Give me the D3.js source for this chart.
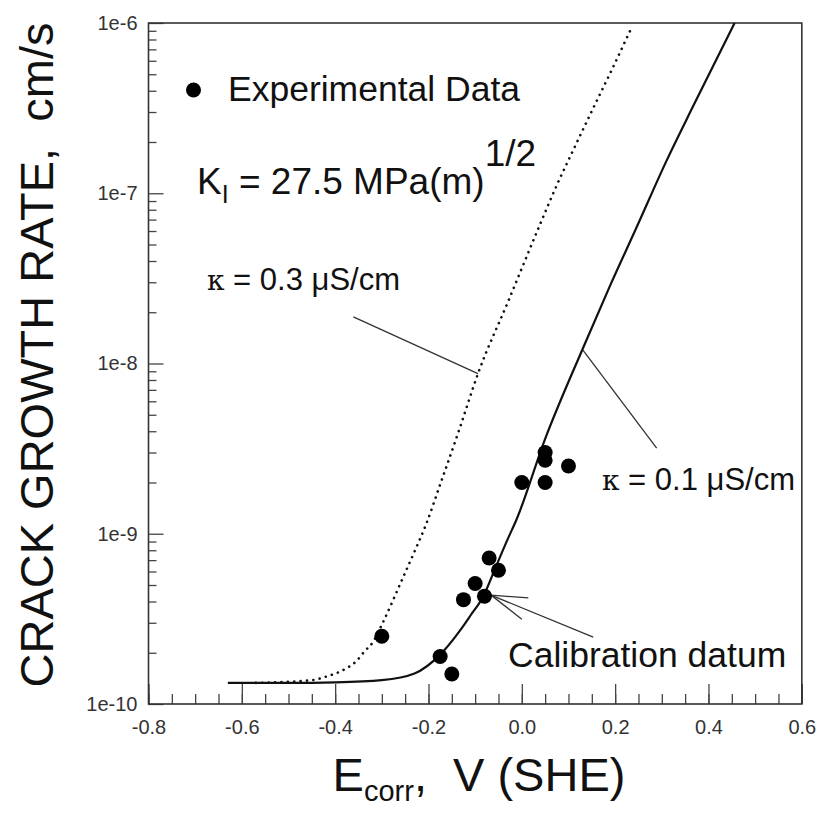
<!DOCTYPE html>
<html>
<head>
<meta charset="utf-8">
<script src="https://cdn.jsdelivr.net/npm/d3@7"></script>
<style>
    body { margin: 0; background: #fff; }
    svg { display: block; font-family: 'Liberation Sans', Arial, sans-serif; }
</style>
</head>
<body>
<div id="chart"></div>
<script>
// experimental crack growth rates, E in V (SHE), rate in cm/s
const expE = [-0.30, -0.175, -0.15, -0.125, -0.10, -0.08, -0.07, -0.05, 0.0, 0.05, 0.05, 0.05, 0.10],
    expRate = [2.5e-10, 1.9e-10, 1.5e-10, 4.1e-10, 5.1e-10, 4.3e-10, 7.2e-10, 6.1e-10, 2.0e-9, 2.0e-9, 2.7e-9, 3.0e-9, 2.5e-9];

// model curve, kappa = 0.1 uS/cm (solid)
const k01E = [-0.63, -0.5, -0.4, -0.3, -0.23, -0.175, -0.133, -0.11, -0.083, -0.055, -0.03, -0.012, 0.049, 0.131, 0.188, 0.246, 0.31, 0.367, 0.456],
    k01Rate = [1.33e-10, 1.33e-10, 1.34e-10, 1.38e-10, 1.51e-10, 1.95e-10, 2.69e-10, 3.31e-10, 4.27e-10, 6.46e-10, 9.33e-10, 1.2e-9, 3.55e-9, 1.23e-8, 2.82e-8, 6.31e-8, 1.55e-7, 3.24e-7, 1.0e-6];

// model curve, kappa = 0.3 uS/cm (dotted)
const k03E = [-0.57, -0.45, -0.419, -0.376, -0.355, -0.337, -0.32, -0.298, -0.255, -0.226, -0.206, -0.176, -0.133, -0.094, -0.03, 0.038, 0.074, 0.113, 0.153, 0.192, 0.233],
    k03Rate = [1.33e-10, 1.38e-10, 1.45e-10, 1.62e-10, 1.78e-10, 2.04e-10, 2.29e-10, 3.0e-10, 5.5e-10, 8.32e-10, 1.12e-9, 1.91e-9, 4.17e-9, 8.71e-9, 2.29e-8, 6.46e-8, 1.1e-7, 1.86e-7, 3.16e-7, 5.25e-7, 9.12e-7];

const xTicks = [-0.8, -0.6, -0.4, -0.2, 0.0, 0.2, 0.4, 0.6],
    xTickLabels = ['-0.8', '-0.6', '-0.4', '-0.2', '0.0', '0.2', '0.4', '0.6'],
    yTicks = [1e-10, 1e-9, 1e-8, 1e-7, 1e-6],
    yTickLabels = ['1e-10', '1e-9', '1e-8', '1e-7', '1e-6'];

// leader lines, [E, rate] pairs
const leader03 = [[-0.361, 1.88e-8], [-0.094, 8.71e-9]],
    leader01 = [[0.131, 1.2e-8], [0.289, 3.18e-9]],
    calibArrow = [
        [[-0.066, 4.36e-10], [0.153, 2.47e-10]],
        [[-0.066, 4.36e-10], [0.014, 4.2e-10]],
        [[-0.066, 4.36e-10], [0.0, 3.15e-10]]
    ];

const width = 821,
    height = 814,
    plot = { left: 148.5, right: 801.8, top: 23, bottom: 704 };

const svg = d3.select('#chart').append('svg')
                .attr('width', width)
                .attr('height', height);

const x = d3.scaleLinear().domain([-0.8, 0.6]).range([plot.left, plot.right]),
    y = d3.scaleLog().domain([1e-10, 1e-6]).range([plot.bottom, plot.top]);

// x minor ticks every 0.05
const xMinor = d3.range(0, 29).map(i => +(-0.8 + i * 0.05).toFixed(2)),
    yMinor = y.ticks().filter(v => !yTicks.some(t => Math.abs(t - v) / t < 1e-6));

const gx = svg.append('g').attr('transform', `translate(0,${plot.bottom})`);
gx.append('g')
                .call(d3.axisBottom(x).tickValues(xMinor).tickSize(-10).tickFormat(''));
gx.append('g')
                .call(d3.axisBottom(x).tickValues(xTicks).tickSize(-20).tickPadding(16)
                    .tickFormat((d, i) => xTickLabels[i]));

const gy = svg.append('g').attr('transform', `translate(${plot.left},0)`);
gy.append('g')
                .call(d3.axisLeft(y).tickValues(yMinor).tickSize(-8).tickFormat(''));
gy.append('g')
                .call(d3.axisLeft(y).tickValues(yTicks).tickSize(-15).tickPadding(11)
                    .tickFormat((d, i) => yTickLabels[i]));

svg.selectAll('.domain').remove();
svg.selectAll('.tick line').attr('stroke', '#444').attr('stroke-width', 1.3);
svg.selectAll('.tick text')
                .attr('font-size', 20)
                .attr('fill', '#333')
                .attr('font-family', "'Liberation Sans', Arial, sans-serif");

svg.append('rect')
                .attr('x', plot.left)
                .attr('y', plot.top)
                .attr('width', plot.right - plot.left)
                .attr('height', plot.bottom - plot.top)
                .attr('fill', 'none')
                .attr('stroke', '#333')
                .attr('stroke-width', 1.6);

const line = d3.line()
                .x(d => x(d[0]))
                .y(d => y(d[1]))
                .curve(d3.curveMonotoneX);

svg.append('path')
                .datum(d3.zip(k03E, k03Rate))
                .attr('d', line)
                .attr('fill', 'none')
                .attr('stroke', '#111')
                .attr('stroke-width', 2.6)
                .attr('stroke-linecap', 'round')
                .attr('stroke-dasharray', '0.1,6.3');

svg.append('path')
                .datum(d3.zip(k01E, k01Rate))
                .attr('d', line)
                .attr('fill', 'none')
                .attr('stroke', '#111')
                .attr('stroke-width', 2.2);

// leader lines
const straight = d3.line().x(d => x(d[0])).y(d => y(d[1]));
[leader03, leader01].concat(calibArrow).forEach(seg => {
    svg.append('path')
                    .attr('d', straight(seg))
                    .attr('fill', 'none')
                    .attr('stroke', '#333')
                    .attr('stroke-width', 1.3);
});

svg.append('g')
                .selectAll('circle')
                .data(d3.zip(expE, expRate))
                .enter().append('circle')
                .attr('cx', d => x(d[0]))
                .attr('cy', d => y(d[1]))
                .attr('r', 7.5)
                .attr('fill', '#000');

// legend and labels
svg.append('circle').attr('cx', 193.5).attr('cy', 90).attr('r', 7.5).attr('fill', '#000');
svg.append('text')
                .attr('x', 228).attr('y', 101)
                .attr('font-size', 35.5)
                .attr('fill', '#111')
                .text('Experimental Data');

const kText = svg.append('text')
                .attr('x', 197).attr('y', 194)
                .attr('font-size', 37)
                .attr('fill', '#111');
kText.append('tspan').text('K');
kText.append('tspan').attr('font-size', 25).attr('dy', 9).text('I');
kText.append('tspan').attr('dy', -9).text('\u00a0= 27.5 MPa(m)');
kText.append('tspan').attr('font-size', 37).attr('dy', -28).text('1/2');

const kappaFont = "'DejaVu Serif', serif";
[['0.3', 207, 290], ['0.1', 602, 490]].forEach(([v, tx, ty]) => {
    const t = svg.append('text')
                    .attr('x', tx).attr('y', ty)
                    .attr('font-size', 31)
                    .attr('fill', '#111');
    t.append('tspan').attr('font-family', kappaFont).attr('font-size', 28).text('κ');
    t.append('tspan').text(` = ${v} μS/cm`);
});

svg.append('text')
                .attr('x', 508).attr('y', 667)
                .attr('font-size', 35.5)
                .attr('fill', '#111')
                .text('Calibration datum');

// axis titles
svg.append('text')
                .attr('transform', 'translate(53,355) rotate(-90)')
                .attr('text-anchor', 'middle')
                .attr('font-size', 47)
                .attr('fill', '#111')
                .text('CRACK GROWTH RATE,\u00a0\u00a0cm/s');

const xTitle = svg.append('text')
                .attr('x', 479).attr('y', 791)
                .attr('text-anchor', 'middle')
                .attr('font-size', 47)
                .attr('fill', '#111');
xTitle.append('tspan').text('E');
xTitle.append('tspan').attr('font-size', 29).attr('dy', 10).text('corr');
xTitle.append('tspan').attr('dy', -10).text(',\u00a0\u00a0V (SHE)');
</script>
</body>
</html>
